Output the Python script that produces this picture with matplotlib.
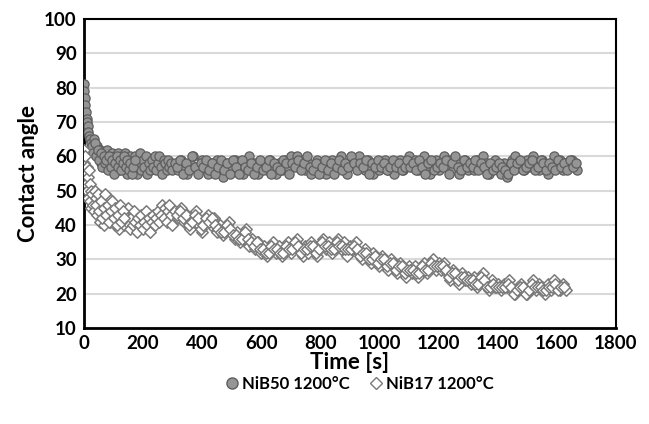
import numpy as np
import matplotlib
matplotlib.use("Agg")
import matplotlib.pyplot as plt
from matplotlib.lines import Line2D

plt.rcParams['font.family'] = ['Lato', 'DejaVu Sans']

# NiB50 1200°C - contact angle readings
nib50_early = [81, 79, 77, 75, 73, 71, 70, 69, 67, 66, 65]            # t = 0..20, every 2 s
nib50_mid = [64, 62, 65, 61, 63, 60, 62, 58, 61, 57, 60, 62, 57, 59, 61, 56,
             60, 58, 61, 56, 59, 60, 57, 61, 55, 58, 60, 56, 59, 57, 60, 55,
             58, 61, 56, 59, 57, 60, 55, 58, 56, 59, 57, 60, 56, 58, 60, 57,
             55, 59, 58, 56, 59, 57, 58, 56]                            # t = 25..300, every 5 s
nib50_mid_b = [63, 61, 64, 60, 62, 59, 61, 57, 60, 58, 59, 56, 60, 57, 59, 55,
               58, 60, 57, 59, 56, 58, 60, 57, 59, 56, 58, 55, 57, 59]   # t = 27..172, every 5 s
nib50_late = [58, 56, 59, 57, 55, 58, 60, 57, 56, 59,
              57, 55, 58, 56, 59, 57, 54, 58, 56, 57,
              59, 56, 58, 55, 57, 60, 56, 58, 55, 57,
              58, 56, 59, 57, 55, 58, 56, 59, 57, 60,
              58, 60, 57, 59, 56, 58, 55, 57, 59, 56,
              58, 55, 57, 59, 56, 58, 60, 57, 55, 58,
              59, 57, 60, 58, 56, 59, 57, 55, 58, 56,
              57, 59, 56, 58, 55, 57, 59, 56, 58, 60,
              57, 59, 56, 58, 60, 57, 55, 58, 59, 56,
              58, 60, 57, 59, 56, 58, 55, 57, 59, 56,
              58, 56, 59, 57, 60, 58, 55, 57, 59, 56,
              55, 58, 54, 57, 59, 60, 57, 58, 56, 59,
              57, 60, 58, 56, 59, 57, 55, 58, 60, 57,
              59, 56, 58, 57, 59, 58, 56]                                # t = 310..1670, every 10 s
nib50_late_b = [57, 59, 55, 58, 56, 60, 57, 55, 58, 57,
                59, 56, 58, 55, 57, 59, 56, 58, 55, 59,
                57, 55, 59, 57, 56, 58, 55, 57, 59, 56,
                57, 59, 55, 58, 57, 56, 59, 58, 55, 58,
                57, 59, 56, 58, 60, 57, 56, 58, 55, 57,
                59, 56, 58, 55, 57, 59, 56, 58, 57, 60,
                58, 56, 58, 57, 59, 55, 58, 57, 59, 57,
                58, 56, 57, 59, 57, 58, 56, 57, 59, 57,
                58, 56, 59, 57, 55, 58, 59, 56, 57, 58,
                57, 59, 55, 58, 60, 57, 56, 59, 57, 58,
                57, 59, 56, 58, 57, 55, 58, 56, 57, 58,
                57, 56, 55, 58, 56, 58, 59, 56, 57, 58,
                59, 56, 57, 59, 58, 56, 58, 57, 56, 59,
                57, 58, 56, 59, 57, 58]                                  # t = 315..1665, every 10 s

# NiB17 1200°C - contact angle readings
nib17_early = [62, 58, 55, 60, 52, 57, 50, 54, 48, 56, 47, 52, 45, 50, 49, 46]   # t = 0..30, every 2 s
nib17_mid = [44, 48, 43, 46, 41, 47, 43, 40, 45, 42, 48, 41, 44, 46, 40, 43,
             45, 39, 42, 44, 40, 43, 41, 45, 39, 42, 40, 44, 41, 38, 42, 40,
             43, 39, 41, 44, 40, 42, 38, 41, 43, 40, 42, 44, 41, 43, 46, 42,
             45, 41, 44, 46, 43, 40]                                    # t = 35..300, every 5 s
nib17_mid_b = [50, 46, 49, 44, 47, 42, 45, 49, 43, 46, 41, 44, 47, 42, 45, 40,
               43, 46, 41, 44, 42]                                      # t = 37..137, every 5 s
nib17_late = [44, 42, 45, 41, 43, 39, 42, 44, 40, 38,
              41, 43, 40, 42, 38, 40, 37, 39, 41, 38,
              36, 38, 35, 37, 39, 34, 36, 33, 35, 32,
              34, 31, 33, 35, 32, 34, 31, 33, 35, 32,
              34, 36, 33, 31, 34, 32, 35, 33, 31, 34,
              36, 33, 35, 32, 34, 36, 33, 35, 31, 34,
              33, 35, 32, 30, 33, 31, 29, 32, 30, 28,
              31, 29, 27, 30, 28, 26, 29, 27, 25, 28,
              26, 28, 25, 27, 29, 26, 28, 30, 27, 29,
              27, 29, 26, 24, 27, 25, 23, 26, 24, 25,
              23, 25, 22, 24, 26, 23, 21, 24, 22, 23,
              21, 23, 22, 24, 21, 20, 22, 23, 21, 20,
              22, 24, 21, 23, 22, 20, 23, 21, 24, 22,
              21, 23, 21]                                                # t = 310..1630, every 10 s
nib17_late_b = [43, 44, 42, 43, 40, 41, 43, 42, 39, 40,
                42, 41, 42, 40, 39, 38, 38, 40, 39, 37,
                37, 36, 36, 38, 36, 35, 34, 35, 33, 33,
                32, 32, 34, 33, 33, 32, 32, 34, 33, 33,
                35, 34, 32, 33, 33, 34, 34, 32, 33, 35,
                34, 34, 33, 33, 35, 34, 34, 33, 33, 33,
                34, 33, 31, 32, 32, 30, 30, 31, 29, 30,
                30, 28, 29, 29, 27, 28, 28, 26, 27, 27,
                27, 26, 26, 28, 27, 27, 29, 28, 28, 28,
                28, 27, 25, 26, 26, 24, 25, 25, 24, 24,
                24, 23, 23, 25, 24, 22, 22, 23, 22, 22,
                22, 22, 23, 22, 20, 21, 22, 22, 20, 21,
                23, 22, 22, 22, 21, 21, 22, 22, 23, 21,
                22, 22]                                                  # t = 315..1625, every 10 s

# sampling grid of the measurement
t50 = np.concatenate([0 + 2 * np.arange(len(nib50_early)),
                      25 + 5 * np.arange(len(nib50_mid)),
                      27 + 5 * np.arange(len(nib50_mid_b)),
                      310 + 10 * np.arange(len(nib50_late)),
                      315 + 10 * np.arange(len(nib50_late_b))])
y50 = np.array(nib50_early + nib50_mid + nib50_mid_b + nib50_late + nib50_late_b)
t17 = np.concatenate([0 + 2 * np.arange(len(nib17_early)),
                      35 + 5 * np.arange(len(nib17_mid)),
                      37 + 5 * np.arange(len(nib17_mid_b)),
                      310 + 10 * np.arange(len(nib17_late)),
                      315 + 10 * np.arange(len(nib17_late_b))])
y17 = np.array(nib17_early + nib17_mid + nib17_mid_b + nib17_late + nib17_late_b)

xticks = list(range(0, 1801, 200))
yticks = list(range(10, 101, 10))

fig = plt.figure(figsize=(6.49, 4.24), dpi=100)
ax = fig.add_axes([0.129, 0.226, 0.820, 0.729])

ax.scatter(t50, y50, s=44, marker='o', facecolor='#959595', edgecolor='#5e5e5e',
           linewidth=0.9, zorder=3)
ax.scatter(t17, y17, s=34, marker='D', facecolor='white', edgecolor='#7a7a7a',
           linewidth=1.1, zorder=4)

ax.set_xlim(0, 1800)
ax.set_ylim(10, 100)
ax.set_xticks(xticks)
ax.set_yticks(yticks)
ax.yaxis.grid(True, color='#d9d9d9', linewidth=1.5, zorder=0)
ax.set_axisbelow(True)
for side in ['left', 'bottom']:
    ax.spines[side].set_linewidth(2.0)
for side in ['top', 'right']:
    ax.spines[side].set_linewidth(1.5)
for sp in ax.spines.values():
    sp.set_color('black')
ax.tick_params(length=0, pad=5, labelsize=13.5)
for lab in ax.get_xticklabels() + ax.get_yticklabels():
    lab.set_fontweight('bold')

ax.set_xlabel('Time [s]', fontsize=16, fontweight='bold', labelpad=0)
ax.set_ylabel('Contact angle', fontsize=16, fontweight='bold', labelpad=4)

handles = [Line2D([], [], linestyle='none', marker='o', markersize=8,
                  markerfacecolor='#959595', markeredgecolor='#5e5e5e'),
           Line2D([], [], linestyle='none', marker='D', markersize=6.5,
                  markerfacecolor='white', markeredgecolor='#7a7a7a')]
fig.legend(handles, ['NiB50 1200°C', 'NiB17 1200°C'], loc='center',
           bbox_to_anchor=(0.553, 0.094), ncol=2, frameon=False,
           prop={'weight': 'bold', 'size': 12}, handletextpad=0.1,
           columnspacing=1.1, handlelength=1.0)

fig.savefig('out.png', dpi=100)
